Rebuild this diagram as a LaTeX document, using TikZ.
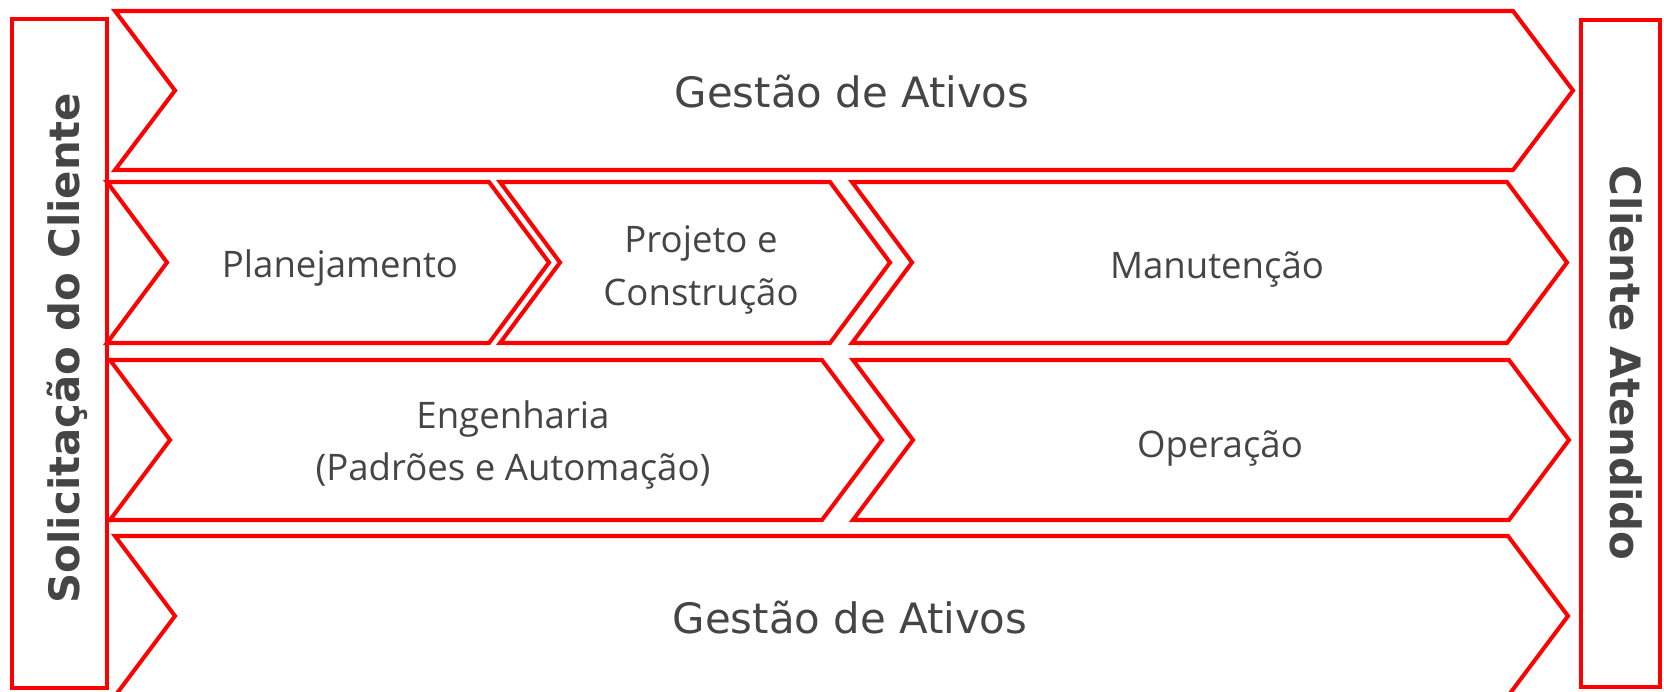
\documentclass[tikz,border=0pt]{standalone}
\usepackage{fontspec}
\setmainfont{Open Sans}
\newfontfamily\vfont{DejaVu Sans}

\definecolor{fluxo}{HTML}{FF0000}
\definecolor{texto}{HTML}{454545}

% chevron: x esquerdo, x direito, y topo, y base
\newcommand{\chevpath}[4]{%
  \draw[chev] (#1,#3) -- (#2,#3) -- ({#2+60},{(#3+#4)/2}) -- (#2,#4) -- (#1,#4) -- ({#1+60},{(#3+#4)/2}) -- cycle;}

\begin{document}
\begin{tikzpicture}[
    x=0.01cm, y=-0.01cm,
    chev/.style={draw=fluxo, line width=1.15pt, line join=miter},
    sidebox/.style={draw=fluxo, line width=1.15pt},
    etapa/.style={font=\fontsize{10.4}{15}\selectfont, text=texto, inner sep=0pt},
    gestao/.style={font=\vfont\fontsize{11.9}{14}\selectfont, text=texto, inner sep=0pt},
    lateral/.style={font=\vfont\bfseries\fontsize{11.9}{14}\selectfont, text=texto, inner sep=0pt}
]
\useasboundingbox (0,0) rectangle (1664,691);
\clip (0,0) rectangle (1664,691);

% caixas laterais
\draw[sidebox] (12,19) rectangle (107,688);
\draw[sidebox] (1581,20) rectangle (1660,687);
\node[lateral, rotate=90, anchor=base] (solicitacao) at (79,348) {Solicitação do Cliente};
\node[lateral, rotate=-90, anchor=base] (atendido) at (1610,363) {Cliente Atendido};

% gestao de ativos (topo)
\chevpath{115}{1513}{11}{170}
\node[gestao, anchor=base] (gestao-topo) at (852,108) {Gestão de Ativos};

% linha 2
\chevpath{107}{489}{182}{343}
\chevpath{500}{830}{182}{343}
\chevpath{852}{1507}{182}{343}
\node[etapa, anchor=base] (planejamento) at (340,277) {Planejamento};
\node[etapa, align=center] (projeto) at (701,270) {Projeto e\\Construção};
\node[etapa, anchor=base] (manutencao) at (1217,278) {Manutenção};

% linha 3
\chevpath{110}{822}{360}{520}
\chevpath{853}{1509}{360}{520}
\node[etapa, align=center] (engenharia) at (513,445) {Engenharia\\(Padrões e Automação)};
\node[etapa, anchor=base] (operacao) at (1220,457) {Operação};

% gestao de ativos (base)
\chevpath{115}{1508}{536}{696}
\node[gestao, anchor=base] (gestao-base) at (850,633) {Gestão de Ativos};
\end{tikzpicture}
\end{document}
